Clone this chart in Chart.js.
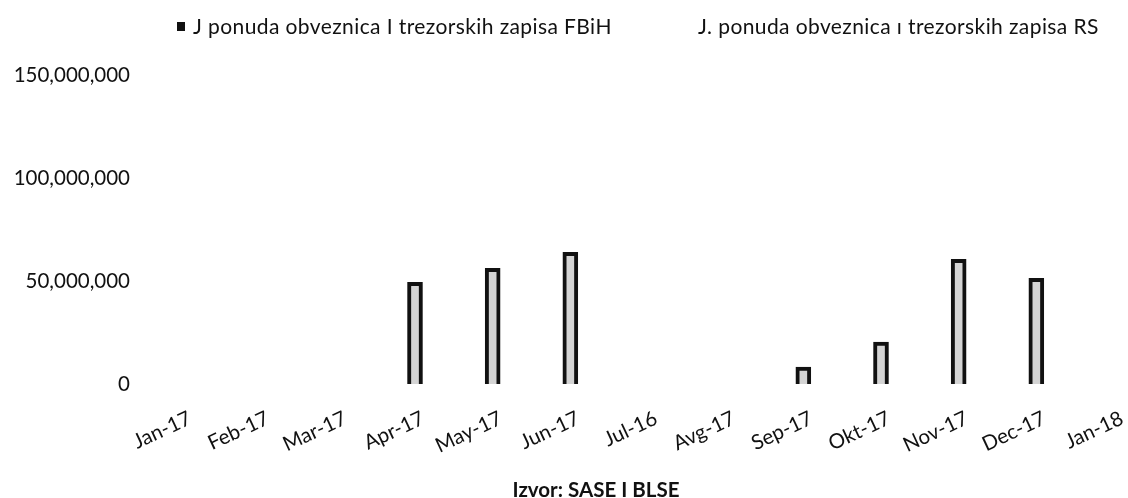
<!DOCTYPE html>
<html>
<head>
<meta charset="utf-8">
<script src="https://cdn.jsdelivr.net/npm/chart.js@4"></script>
<style>
  body { margin: 0; background: #fff; }
  #wrap { position: relative; width: 1128px; height: 498px; overflow: hidden; }
  #legend { position: absolute; top: 0; left: 0; width: 1128px; height: 50px; font-family: Lato, sans-serif; font-size: 21px; letter-spacing: 0.4px; color: #111; }
  #legend span { position: absolute; top: 13px; white-space: nowrap; }
  #legend .box { width: 8px; height: 9px; background: #111; top: 22px; }
  #source { position: absolute; left: 0; width: 1192px; top: 477px; text-align: center; font-family: Lato, sans-serif; font-size: 20.5px; font-weight: bold; color: #111; white-space: nowrap; }
</style>
</head>
<body>
<div id="wrap">
  <canvas id="myChart" width="1128" height="498"></canvas>
  <div id="legend">
    <span class="box" style="left:177px"></span>
    <span id="lgFbih" style="left:193px"></span>
    <span id="lgRs" style="left:698px"></span>
  </div>
  <div id="source"></div>
</div>
<script>
const months = ["Jan-17", "Feb-17", "Mar-17", "Apr-17", "May-17", "Jun-17", "Jul-16", "Avg-17", "Sep-17", "Okt-17", "Nov-17", "Dec-17", "Jan-18"]
const fbihName = "J ponuda obveznica I trezorskih zapisa FBiH"
const rsName = "J. ponuda obveznica ı trezorskih zapisa RS"
const fbihValues = [null, null, null, 49300000, 56100000, 63900000, null, null, 8200000, 20300000, 60500000, 51300000, null]
const rsValues = [null, null, null, null, null, null, null, null, null, null, null, null, null]
const yTicks = [0, 50000000, 100000000, 150000000]
const source = "Izvor: SASE I BLSE"

document.getElementById('lgFbih').textContent = fbihName
document.getElementById('lgRs').textContent = rsName
document.getElementById('source').textContent = source

Chart.defaults.font.family = 'Lato, sans-serif'
Chart.defaults.font.size = 20.5
Chart.defaults.color = '#111'

const ctx = document.getElementById('myChart').getContext('2d')
const chart = new Chart(ctx, {
  type: 'bar',
  data: {
    labels: months,
    datasets: [{
      label: fbihName,
      data: fbihValues,
      backgroundColor: '#d4d4d4',
      borderColor: '#111',
      borderWidth: 4,
      barThickness: 15
    }, {
      label: rsName,
      data: rsValues,
      backgroundColor: '#fff',
      borderColor: '#fff',
      barThickness: 15
    }]
  },
  options: {
    responsive: false,
    animation: false,
    locale: 'en-US',
    grouped: false,
    layout: { padding: { top: 75, right: 14, left: 0, bottom: 38 } },
    plugins: {
      legend: { display: false },
      tooltip: { enabled: false }
    },
    scales: {
      x: {
        offset: false,
        grid: { display: false, drawTicks: false },
        border: { display: false },
        ticks: { autoSkip: false, minRotation: 25, maxRotation: 25, padding: 22, labelOffset: 8 },
        afterFit: (scale) => { scale.height = 76; scale.paddingLeft = 0; scale.paddingRight = 0 }
      },
      y: {
        min: 0,
        max: 150000000,
        grid: { display: false, drawTicks: false },
        border: { display: false },
        afterBuildTicks: (scale) => { scale.ticks = yTicks.map(v => ({ value: v })) },
        ticks: { padding: 52 },
        afterFit: (scale) => { scale.width = 182 }
      }
    }
  }
})
</script>
</body>
</html>
